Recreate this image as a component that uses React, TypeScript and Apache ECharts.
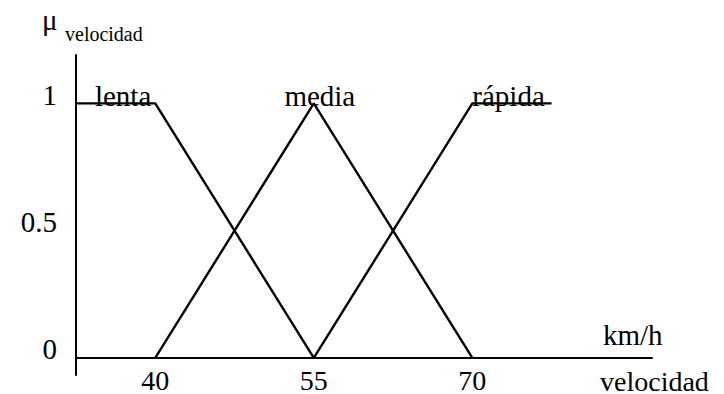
import React, { useEffect, useRef } from "react";
import * as echarts from "echarts";

// Fuzzy membership functions for "velocidad" (km/h)
const xTicks = [40, 55, 70];
const yTicks = [0, 0.5, 1];
const lenta: [number, number][] = [[32.5, 1], [40, 1], [55, 0]];
const media: [number, number][] = [[40, 0], [55, 1], [70, 0]];
const rapida: [number, number][] = [[55, 0], [70, 1], [77.5, 1]];
const setNames = ["lenta", "media", "rápida"];
// Where each set's name sits: anchor value on the x axis, alignment, pixel nudge
const nameAnchors: { x: number; align: "left" | "center" | "right"; dx: number }[] = [
  { x: 40, align: "right", dx: -4 },
  { x: 55, align: "center", dx: 6 },
  { x: 70, align: "left", dx: 0 },
];

const FONT = "Liberation Serif";

export default function App() {
  const ref = useRef<HTMLDivElement>(null);

  useEffect(() => {
    if (!ref.current) return;
    const chart = echarts.init(ref.current, null, { renderer: "svg" });
    const lineStyle = { color: "#000", width: 2.4 };
    const mk = (name: string, data: [number, number][]) => ({
      name,
      type: "line",
      data,
      symbol: "none",
      lineStyle,
      z: 3,
    });
    chart.setOption({
      animation: false,
      backgroundColor: "#fff",
      textStyle: { fontFamily: FONT },
      grid: {
        left: 76,
        right: 72,
        top: 55,
        bottom: 19,
        containLabel: false,
        outerBoundsMode: "none",
      },
      xAxis: {
        type: "value",
        min: 32.5,
        max: 87,
        axisLine: { onZero: true, lineStyle: { color: "#000", width: 2 } },
        axisTick: { show: false },
        splitLine: { show: false },
        axisLabel: {
          customValues: xTicks,
          color: "#000",
          fontFamily: FONT,
          fontSize: 28,
          lineHeight: 24,
          margin: -7,
        },
      },
      yAxis: {
        type: "value",
        min: -0.067,
        max: 1.19,
        axisLine: { show: true, onZero: false, lineStyle: { color: "#000", width: 2 } },
        axisTick: { show: false },
        splitLine: { show: false },
        axisLabel: {
          customValues: yTicks,
          color: "#000",
          fontFamily: FONT,
          fontSize: 29,
          lineHeight: 17,
          verticalAlign: "bottom",
          margin: 19,
          formatter: (v: number) => String(v),
        },
      },
      series: [mk(setNames[0], lenta), mk(setNames[1], media), mk(setNames[2], rapida)],
    });

    const topY = chart.convertToPixel({ gridIndex: 0 }, [40, 1])[1];
    const txt = (text: string, x: number, y: number, size: number, extra: any = {}) => ({
      type: "text",
      x,
      y,
      z: 5,
      style: {
        text,
        fill: "#000",
        fontFamily: FONT,
        fontSize: size,
        ...extra,
      },
    });
    const nameTexts = nameAnchors.map((a, i) => {
      const px = chart.convertToPixel({ gridIndex: 0 }, [a.x, 1])[0];
      return txt(setNames[i], px + a.dx, topY + 7, 29, {
        align: a.align,
        verticalAlign: "bottom",
      });
    });

    chart.setOption({
      graphic: [
        ...nameTexts,
        txt("μ", 42, 5, 29),
        txt("velocidad", 65, 24, 20),
        txt("km/h", 603, 320, 29),
        txt("velocidad", 600, 368, 28, { lineHeight: 26 }),
      ],
    });

    return () => chart.dispose();
  }, []);

  return (
    <div
      ref={ref}
      style={{ position: "fixed", left: 0, top: 0, width: 724, height: 394, background: "#fff" }}
    />
  );
}
